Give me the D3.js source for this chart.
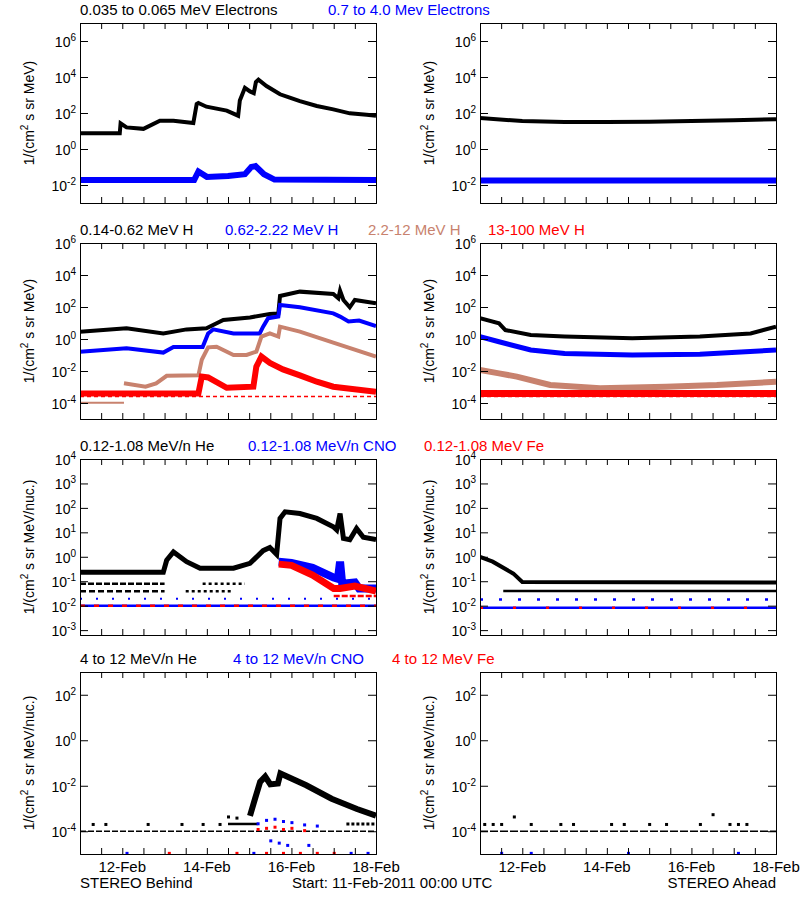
<!DOCTYPE html>
<html>
<head>
<meta charset="utf-8">
<script src="https://cdn.jsdelivr.net/npm/d3@7"></script>
<style>
body{margin:0;background:#fff;}
text{font-family:"Liberation Sans",Arial,sans-serif;}
</style>
</head>
<body>
<svg id="chart" width="800" height="900"></svg>
<script>
// time in days since 11-Feb-2011 00:00, values as log10(flux)
var dayTicks = [1, 3, 5, 7];
var dayLabels = ["12-Feb", "14-Feb", "16-Feb", "18-Feb"];

// row 1 : electrons
var eLowB = [[0,0.87],[0.94,0.87],[0.96,1.43],[1.1,1.2],[1.5,1.12],[1.89,1.57],[2.21,1.57],[2.68,1.44],[2.76,2.5],[2.8,2.56],[2.99,2.35],[3.47,2.13],[3.74,1.85],[3.78,2.7],[3.9,3.4],[4.02,3.2],[4.11,3.1],[4.16,3.72],[4.22,3.85],[4.41,3.5],[4.73,3.04],[4.96,2.85],[5.2,2.66],[5.6,2.39],[5.99,2.2],[6.38,1.98],[6.78,1.9],[7,1.85]];
var eHighB = [[0,-1.72],[2.7,-1.72],[2.8,-1.25],[3.0,-1.55],[3.5,-1.5],[3.9,-1.4],[4.05,-1.0],[4.15,-0.95],[4.35,-1.4],[4.6,-1.7],[7,-1.72]];
var eLowA = [[0,1.72],[1,1.55],[2,1.5],[3,1.5],[4,1.52],[5,1.55],[6,1.6],[7,1.65]];
var eHighA = [[0,-1.75],[7,-1.75]];

// row 2 : protons
var h1B = [[0,0.46],[1.1,0.67],[1.97,0.35],[2.52,0.6],[2.99,0.67],[3.39,1.19],[4.02,1.35],[4.49,1.56],[4.69,1.6],[4.73,2.69],[5.2,2.96],[5.99,2.81],[6.11,2.54],[6.15,3.02],[6.23,2.44],[6.38,1.98],[6.5,2.44],[7,2.23]];
var h2B = [[0,-0.79],[1.1,-0.58],[1.97,-0.85],[2.21,-0.5],[2.9,-0.5],[3.03,0.35],[3.15,0.6],[3.63,0.35],[4.25,0.35],[4.33,0.77],[4.45,1.3],[4.69,1.4],[4.73,2.13],[5.2,1.98],[5.99,1.6],[6.15,1.4],[6.35,1.1],[6.6,1.15],[7,0.81]];
var h3B = [[1.04,-2.77],[1.55,-2.98],[1.8,-2.77],[2.05,-2.3],[2.8,-2.27],[2.88,-1.3],[3.03,-0.52],[3.23,-0.48],[3.63,-1.0],[3.94,-1.0],[4.17,-0.79],[4.29,0.15],[4.49,0.35],[4.69,0.15],[4.73,0.77],[5.2,0.46],[5.99,-0.23],[7,-1.1]];
var h3Bflat = [[0,-3.98],[1.04,-3.98]];
var h4B = [[0,-3.4],[2.8,-3.4],[2.88,-2.35],[3.03,-2.4],[3.47,-3.05],[4.1,-2.98],[4.17,-1.73],[4.29,-1.1],[4.49,-1.5],[4.8,-1.9],[5.2,-2.27],[5.6,-2.67],[5.99,-2.98],[7,-3.3]];
var h4Bflat = [[0,-3.6],[7,-3.6]];
var h1A = [[0,1.3],[0.45,0.98],[0.6,0.56],[1.2,0.25],[2,0.15],[3.6,0.04],[5.2,0.15],[6.4,0.35],[7,0.77]];
var h2A = [[0,0.15],[0.45,-0.17],[1.2,-0.69],[2,-0.9],[3.6,-1.0],[5.2,-0.96],[7,-0.69]];
var h3A = [[0,-1.94],[0.45,-2.15],[0.87,-2.35],[1.66,-2.875],[2.84,-3.08],[4.4,-2.98],[5.6,-2.875],[7,-2.67]];
var h4A = [[0,-3.4],[7,-3.4]];
var h4Aflat = [[0,-3.6],[7,-3.6]];

// row 3 : low energy heavy ions
var heLB = [[0,-0.63],[1.97,-0.63],[2.05,-0.14],[2.21,0.2],[2.52,-0.2],[2.84,-0.47],[3.63,-0.47],[4.02,-0.27],[4.33,0.25],[4.49,0.38],[4.65,0.1],[4.73,1.57],[4.85,1.84],[5.2,1.77],[5.6,1.57],[5.99,1.23],[6.07,1.1],[6.15,1.77],[6.23,0.75],[6.38,0.7],[6.54,1.16],[6.7,0.8],[7,0.7]];
var heLBlev1 = [[0,-1.1],[2.0,-1.1]];
var heLBlev2 = [[0,-1.41],[2.0,-1.41]];
var heLBlev3 = [[2.9,-1.1],[3.9,-1.1]];
var heLBlev4 = [[2.5,-1.41],[3.6,-1.41]];
var cnoLB = [[4.7,-0.2],[5.0,-0.25],[5.5,-0.45],[6.0,-0.85],[6.1,-0.9],[6.15,-0.2],[6.2,-1.1],[6.5,-1.05],[6.6,-1.3],[7,-1.3]];
var feLB = [[4.7,-0.3],[5.0,-0.35],[5.5,-0.75],[6.0,-1.3],[6.15,-1.3],[6.5,-1.2],[7,-1.4]];
var baseLB = [[0,-2.0],[7,-2.0]];
var feLBlev = [[6.0,-1.6],[7,-1.6]];
var cnoLBlev = [[0,-1.72],[7,-1.72]];
var heLA = [[0,0.0],[0.3,-0.2],[0.79,-0.69],[1.0,-1.03],[7,-1.05]];
var heLAlev = [[0.55,-1.4],[7,-1.4]];
var cnoLAlev = [[0,-1.75],[7,-1.75]];
var baseLA = [[0,-2.09],[7,-2.09]];

// row 4 : high energy heavy ions
var heHB = [[4.02,-3.32],[4.14,-2.57],[4.26,-1.83],[4.38,-1.6],[4.5,-1.94],[4.68,-1.9],[4.74,-1.46],[5.35,-1.98],[5.95,-2.57],[6.55,-3.02],[7,-3.32]];
var heHBlev = [[3.5,-3.68],[4.2,-3.68]];
var heHBlev2 = [[6.3,-3.68],[7,-3.68]];
var baseHB = [[0,-4],[7,-4]];
var heHBdots = [[0.3,-3.68],[0.6,-3.68],[1.6,-3.68],[2.4,-3.68],[2.9,-3.68],[3.3,-3.68],[3.5,-3.35],[3.7,-3.4]];
var cnoHB = [[4.2,-3.65],[4.4,-3.5],[4.6,-3.45],[4.8,-3.55],[5.0,-3.6],[5.3,-3.7],[5.6,-3.75],[4.5,-4.4],[4.7,-4.5],[4.9,-4.6],[5.4,-4.6],[1.1,-4.95],[4.1,-4.95],[6.4,-4.95],[6.8,-4.95]];
var feHB = [[4.2,-3.9],[4.4,-3.85],[4.6,-3.8],[4.8,-3.9],[5.0,-3.85],[5.3,-3.95],[2.1,-4.95],[3.7,-4.95],[4.4,-4.95],[4.8,-4.95],[5.2,-4.95],[5.6,-4.95],[6.0,-4.95]];
var heHA = [[0,-4],[7,-4]];
var heHAdots = [[0.1,-3.68],[0.3,-3.68],[0.5,-3.68],[0.8,-3.35],[1.2,-3.68],[1.9,-3.68],[2.2,-3.68],[3.1,-3.68],[3.4,-3.68],[4.0,-3.68],[4.4,-3.68],[5.2,-3.68],[5.5,-3.25],[5.9,-3.68],[6.1,-3.68],[6.3,-3.68]];
var cnoHAdots = [[0.5,-4.95],[1.2,-4.95],[3.5,-4.95],[6.1,-4.95]];

var BLACK = "#000", BLUE = "#0000ff", TAN = "#c8826e", RED = "#ff0000";

var rows = [
  {top: 23, h: 180, dom: [-3, 7], labels: [-2,0,2,4,6], unit: "MeV)",
   titles: [["0.035 to 0.065 MeV Electrons", BLACK, 80], ["0.7 to 4.0 Mev Electrons", BLUE, 328]],
   left: [[eLowB, BLACK, 4], [eHighB, BLUE, 6]],
   right: [[eLowA, BLACK, 4], [eHighA, BLUE, 6]]},
  {top: 243, h: 176, dom: [-5, 6], labels: [-4,-2,0,2,4,6], unit: "MeV)",
   titles: [["0.14-0.62 MeV H", BLACK, 80], ["0.62-2.22 MeV H", BLUE, 225], ["2.2-12 MeV H", TAN, 368], ["13-100 MeV H", RED, 488]],
   left: [[h1B, BLACK, 4], [h2B, BLUE, 4], [h3Bflat, TAN, 2], [h3B, TAN, 4], [h4Bflat, RED, 1.5, "4,3"], [h4B, RED, 6]],
   right: [[h1A, BLACK, 4], [h2A, BLUE, 5], [h3A, TAN, 6], [h4Aflat, RED, 1.5, "4,3"], [h4A, RED, 7]]},
  {top: 459, h: 176, dom: [-3.2, 4], labels: [-3,-2,-1,0,1,2,3,4], unit: "MeV/nuc.)",
   titles: [["0.12-1.08 MeV/n He", BLACK, 80], ["0.12-1.08 MeV/n CNO", BLUE, 248], ["0.12-1.08 MeV Fe", RED, 424]],
   left: [[heLBlev1, BLACK, 2.5, "6,2"], [heLBlev2, BLACK, 2.5, "6,3"], [heLBlev3, BLACK, 2.5, "3,3"], [heLBlev4, BLACK, 2.5, "3,3"], [heLB, BLACK, 5],
          [cnoLBlev, BLUE, 2, "2,14"], [baseLB, BLUE, 2.5], [baseLB, RED, 2.5, "5,9"], [cnoLB, BLUE, 8], [feLBlev, RED, 2.5, "6,2"], [feLB, RED, 7]],
   right: [[heLA, BLACK, 4], [heLAlev, BLACK, 2.5], [cnoLAlev, BLUE, 2.5, "3,16"], [baseLA, BLUE, 2.5], [baseLA, RED, 2.5, "3,30"]]},
  {top: 672, h: 182, dom: [-5, 3], labels: [-4,-2,0,2], unit: "MeV/nuc.)",
   titles: [["4 to 12 MeV/n He", BLACK, 80], ["4 to 12 MeV/n CNO", BLUE, 233], ["4 to 12 MeV Fe", RED, 392]],
   left: [[baseHB, BLACK, 1.5, "6,2"], [heHBlev, BLACK, 2.5], [heHBlev2, BLACK, 3, "3,2"], [heHB, BLACK, 6]],
   leftDots: [[heHBdots, BLACK], [cnoHB, BLUE], [feHB, RED]],
   right: [[heHA, BLACK, 1.5, "8,2"]],
   rightDots: [[heHAdots, BLACK], [cnoHAdots, BLUE]]}
];

var svg = d3.select("#chart");
var W = 296;
var line = d3.line();

function supLabel(g, x, y, p, anchor) {
  var t = g.append("text").attr("x", x).attr("y", y).attr("text-anchor", anchor || "end")
    .attr("font-size", 14).attr("fill", "#000");
  t.append("tspan").text("10");
  t.append("tspan").attr("dy", -6).attr("font-size", 10).text(p);
}

function drawPanel(row, x0, series, dots, isBottom) {
  var x = d3.scaleLinear().domain([0, 7]).range([x0, x0 + W]);
  var y = d3.scaleLog().domain([Math.pow(10, row.dom[0]), Math.pow(10, row.dom[1])]).range([row.top + row.h, row.top]);
  var g = svg.append("g");
  var clipId = "c" + x0 + "_" + row.top;
  g.append("clipPath").attr("id", clipId).append("rect")
    .attr("x", x0).attr("y", row.top).attr("width", W).attr("height", row.h);
  var pg = g.append("g").attr("clip-path", "url(#" + clipId + ")");

  series.forEach(function(s) {
    pg.append("path")
      .attr("d", line(s[0].map(function(d){ return [x(d[0]), y(Math.pow(10, d[1]))]; })))
      .attr("fill", "none").attr("stroke", s[1]).attr("stroke-width", s[2])
      .attr("stroke-dasharray", s[3] || null);
  });
  (dots || []).forEach(function(s) {
    pg.selectAll(null).data(s[0]).enter().append("rect")
      .attr("x", function(d){ return x(d[0]) - 1; })
      .attr("y", function(d){ return y(Math.pow(10, d[1])) - 1; })
      .attr("width", 3).attr("height", 3).attr("fill", s[1]);
  });

  var halfDays = d3.range(0, 14.5).map(function(i){ return i / 2; });
  var yt = row.labels.map(function(p){ return Math.pow(10, p); });
  g.append("g").attr("transform", "translate(0," + (row.top + row.h) + ")")
    .call(d3.axisBottom(x).tickValues(halfDays).tickSize(-6).tickFormat(""));
  g.append("g").attr("transform", "translate(0," + row.top + ")")
    .call(d3.axisTop(x).tickValues(halfDays).tickSize(-6).tickFormat(""));
  g.append("g").attr("transform", "translate(" + x0 + ",0)")
    .call(d3.axisLeft(y).tickValues(yt).tickSize(-8).tickFormat(""));
  g.append("g").attr("transform", "translate(" + (x0 + W) + ",0)")
    .call(d3.axisRight(y).tickValues(yt).tickSize(-8).tickFormat(""));
  g.selectAll(".domain").attr("stroke", "#000");
  g.selectAll(".tick line").attr("stroke", "#000");

  row.labels.forEach(function(p){ supLabel(g, x0 - 4, y(Math.pow(10, p)) + 6, p); });

  var cy = row.top + row.h / 2;
  var tt = g.append("text").attr("transform", "translate(" + (x0 - 46) + "," + cy + ") rotate(-90)")
    .attr("text-anchor", "middle").attr("font-size", 14);
  tt.append("tspan").text("1/(cm");
  tt.append("tspan").attr("dy", -6).attr("font-size", 10).text("2");
  tt.append("tspan").attr("dy", 6).text(" s sr " + row.unit);

  if (isBottom) {
    dayTicks.forEach(function(d, i) {
      g.append("text").attr("x", x(d)).attr("y", row.top + row.h + 18)
        .attr("text-anchor", "middle").attr("font-size", 15).text(dayLabels[i]);
    });
  }
}

rows.forEach(function(row, i) {
  row.titles.forEach(function(t) {
    svg.append("text").attr("x", t[2]).attr("y", row.top - 8).attr("font-size", 15)
      .attr("fill", t[1]).text(t[0]);
  });
  drawPanel(row, 80, row.left, row.leftDots, i === 3);
  drawPanel(row, 480, row.right, row.rightDots, i === 3);
});

svg.append("text").attr("x", 80).attr("y", 888).attr("font-size", 15).text("STEREO Behind");
svg.append("text").attr("x", 292).attr("y", 888).attr("font-size", 15).text("Start: 11-Feb-2011 00:00 UTC");
svg.append("text").attr("x", 776).attr("y", 888).attr("text-anchor", "end").attr("font-size", 15).text("STEREO Ahead");
</script>
</body>
</html>
